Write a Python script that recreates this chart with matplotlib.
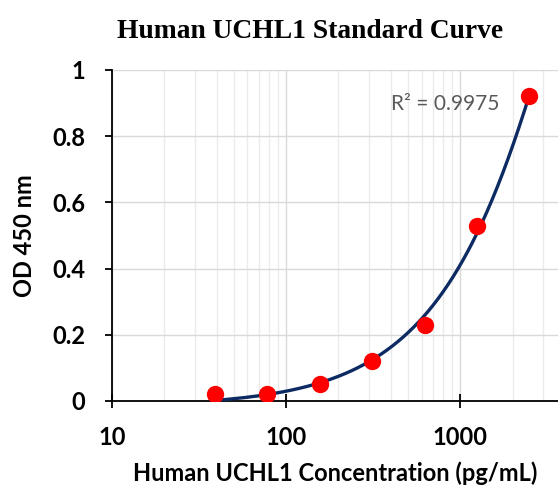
import numpy as np
import matplotlib
matplotlib.use("Agg")
import matplotlib.pyplot as plt
from matplotlib.ticker import LogLocator, NullFormatter, FixedLocator

conc = [39.06, 78.13, 156.25, 312.5, 625, 1250, 2500]
od = [0.02, 0.02, 0.05, 0.12, 0.23, 0.53, 0.92]
xticks = [10, 100, 1000]
xticklabels = ["10", "100", "1000"]
yticks = [0, 0.2, 0.4, 0.6, 0.8, 1.0]
yticklabels = ["0", "0.2", "0.4", "0.6", "0.8", "1"]
r2_text = "R² = 0.9975"

fig = plt.figure(figsize=(5.58, 4.87), dpi=100)
ax = fig.add_axes([0.2007, 0.1766, 0.7993, 0.6797])

# polynomial (2nd order) trendline fitted to the standards
coef = np.polyfit(conc, od, 2)
xs = np.linspace(min(conc), max(conc), 400)
ax.plot(xs, np.polyval(coef, xs), color="#0D2B62", lw=2.4, zorder=3, solid_capstyle="round")
ax.plot(conc, od, "o", color="#FF0000", ms=12.5, mec="none", zorder=4)

ax.set_xscale("log")
ax.set_xlim(10, 3650)
ax.set_ylim(0, 1)
ax.xaxis.set_major_locator(FixedLocator(xticks))
ax.set_xticklabels(xticklabels)
ax.xaxis.set_minor_locator(LogLocator(base=10, subs=np.arange(2, 10)))
ax.xaxis.set_minor_formatter(NullFormatter())
ax.set_yticks(yticks)
ax.set_yticklabels(yticklabels)

ax.grid(True, which="major", color="#D9D9D9", lw=1.0)
ax.grid(True, which="minor", axis="x", color="#EBEBEB", lw=1.0)
ax.set_axisbelow(True)

for s in ["top", "right"]:
    ax.spines[s].set_visible(False)
for s in ["left", "bottom"]:
    ax.spines[s].set_linewidth(1.3)
    ax.spines[s].set_color("black")

ax.tick_params(axis="x", which="major", direction="inout", length=10, width=1.3, pad=13)
ax.tick_params(axis="x", which="minor", length=0)
ax.tick_params(axis="y", which="major", direction="out", length=5, width=1.3, pad=14)

lf = "Lato"
for lab in ax.get_xticklabels() + ax.get_yticklabels():
    lab.set_fontfamily(lf)
    lab.set_fontweight("bold")
    lab.set_fontsize(17)

ax.set_xlabel("Human UCHL1 Concentration (pg/mL)", fontfamily=lf, fontweight="bold", fontsize=17, labelpad=9)
ax.set_ylabel("OD 450 nm", fontfamily=lf, fontweight="bold", fontsize=17, labelpad=12)

fig.text(0.556, 0.935, "Human UCHL1 Standard Curve", fontfamily="Liberation Serif",
         fontweight="bold", fontsize=19.8, ha="center", va="center")

ax.text(820, 0.897, r2_text, fontfamily=lf, fontsize=15, color="#595959", ha="center", va="center")

fig.savefig("out.png", dpi=100)
